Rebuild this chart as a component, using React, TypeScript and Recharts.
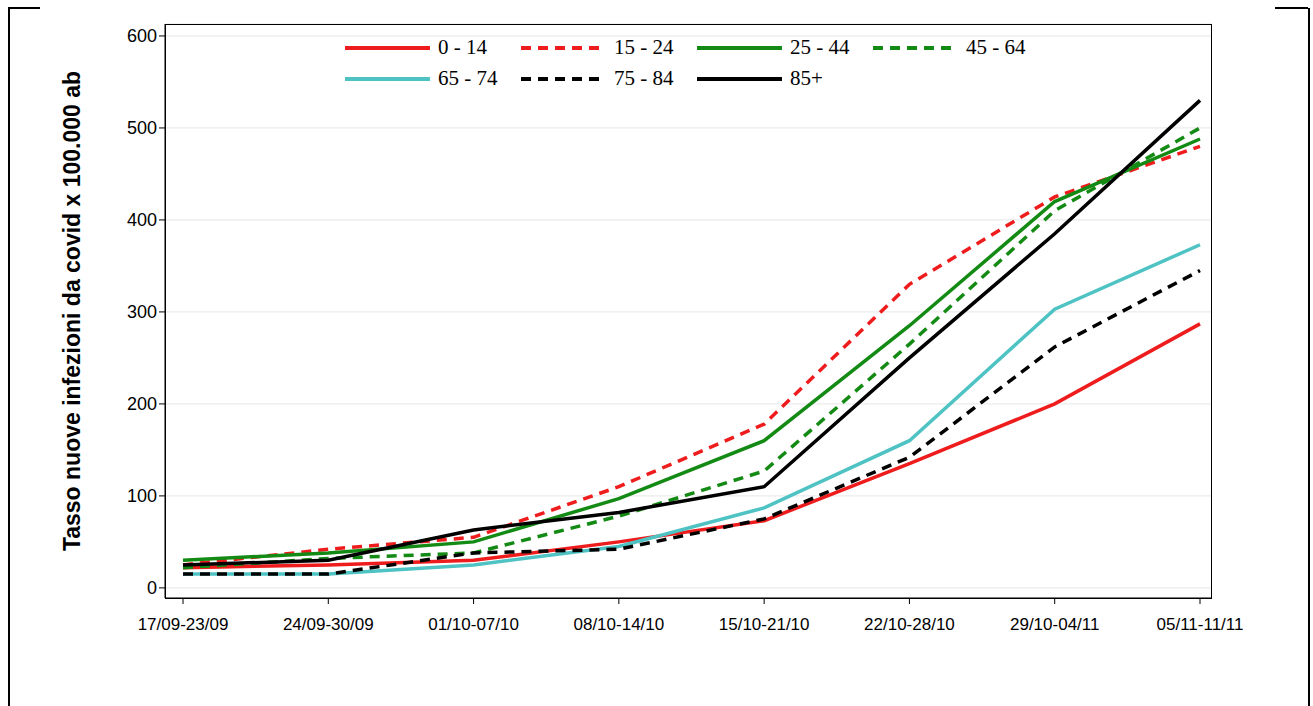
import { LineChart, Line, XAxis, YAxis, CartesianGrid } from "recharts";

const weeks = ["17/09-23/09", "24/09-30/09", "01/10-07/10", "08/10-14/10", "15/10-21/10", "22/10-28/10", "29/10-04/11", "05/11-11/11"];
const g0_14 = [22, 25, 30, 50, 73, 135, 200, 287];
const g15_24 = [25, 42, 55, 110, 178, 330, 425, 480];
const g25_44 = [30, 38, 50, 97, 160, 285, 420, 488];
const g45_64 = [22, 32, 38, 78, 127, 265, 410, 500];
const g65_74 = [15, 15, 25, 45, 87, 160, 303, 373];
const g75_84 = [15, 15, 38, 42, 75, 142, 262, 345];
const g85 = [25, 30, 63, 82, 110, 250, 385, 530];
const yTicks = [0, 100, 200, 300, 400, 500, 600];

const series = [
  { key: "a", name: "0 - 14", values: g0_14, color: "#ee1c1c", dash: undefined },
  { key: "b", name: "15 - 24", values: g15_24, color: "#ee1c1c", dash: "10 7" },
  { key: "c", name: "25 - 44", values: g25_44, color: "#138a13", dash: undefined },
  { key: "d", name: "45 - 64", values: g45_64, color: "#138a13", dash: "10 7" },
  { key: "e", name: "65 - 74", values: g65_74, color: "#4fc3c3", dash: undefined },
  { key: "f", name: "75 - 84", values: g75_84, color: "#000000", dash: "10 7" },
  { key: "g", name: "85+", values: g85, color: "#000000", dash: undefined },
];

const data = weeks.map((w, i) => {
  const row: Record<string, string | number> = { week: w };
  series.forEach((s) => (row[s.key] = s.values[i]));
  return row;
});

const font = "'Liberation Sans', Arial, sans-serif";

export default function App() {
  return (
    <div style={{ position: "absolute", left: 0, top: 0, width: 1313, height: 706, background: "#fff", fontFamily: font }}>
      <div style={{ position: "absolute", left: 8, top: 8, width: 1298, height: 720, borderLeft: "2px solid #000", borderRight: "2px solid #000" }} />
      <div style={{ position: "absolute", left: 8, top: 7, width: 32, borderTop: "2px solid #000" }} />
      <div style={{ position: "absolute", left: 1275, top: 7, width: 33, borderTop: "2px solid #000" }} />
      <LineChart width={1313} height={706} data={data} margin={{ top: 24, right: 101, bottom: 0, left: 0 }}>
        <CartesianGrid vertical={false} stroke="#e6e6e6" />
        <XAxis dataKey="week" padding={{ left: 18, right: 12 }} height={108} stroke="#000" tickLine={{ stroke: "#000" }} tickSize={6}
          tick={{ fill: "#000", fontSize: 17, fontFamily: font, dy: 12 }} interval={0} />
        <YAxis domain={[-11, 613]} ticks={yTicks} width={165} stroke="#000" tickSize={6} interval={0}
          tick={{ fill: "#000", fontSize: 18, fontFamily: font }}
          label={{ value: "Tasso nuove infezioni da covid x 100.000 ab", angle: -90, position: "insideLeft", offset: 72, style: { fontSize: 23, fontWeight: "bold", fill: "#000", textAnchor: "middle" } }} />
        {series.map((s) => (
          <Line key={s.key} dataKey={s.key} name={s.name} stroke={s.color} strokeWidth={3.5} strokeDasharray={s.dash} dot={false} isAnimationActive={false} />
        ))}
      </LineChart>
      <div style={{ position: "absolute", left: 165, top: 24, width: 1047, height: 575, border: "1.5px solid #000", boxSizing: "border-box", pointerEvents: "none" }} />
      <div style={{ position: "absolute", left: 345, top: 35, width: 720, display: "flex", flexWrap: "wrap", rowGap: 6, fontSize: 21, fontFamily: "'Liberation Serif', serif" }}>
        {series.map((s) => (
          <div key={s.key} style={{ width: 176, display: "flex", alignItems: "center", gap: 8 }}>
            <svg width={85} height={8}>
              <line x1={0} y1={4} x2={85} y2={4} stroke={s.color} strokeWidth={4} strokeDasharray={s.dash} />
            </svg>
            <span>{s.name}</span>
          </div>
        ))}
      </div>
    </div>
  );
}
